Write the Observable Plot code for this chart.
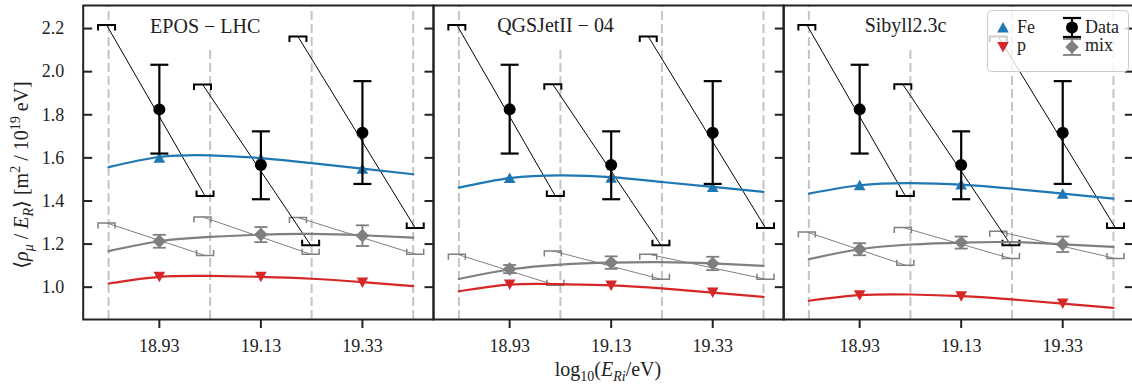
<!DOCTYPE html>
<html>
<head>
<meta charset="utf-8">
<script src="https://cdn.jsdelivr.net/npm/d3@7"></script>
<script src="https://cdn.jsdelivr.net/npm/@observablehq/plot@0.6"></script>
<style>
  html, body { margin:0; padding:0; background:#fff; overflow:hidden; }
  #wrap { position:relative; width:1132px; height:384px; overflow:hidden; background:#fff;
          font-family:"Liberation Serif","DejaVu Serif",serif; color:#222; }
  .panel { position:absolute; top:0; }
  .panel svg { max-width:none; display:block; }
  .panel svg text { font-family:"Liberation Serif","DejaVu Serif",serif; }
  #ylabel { position:absolute; left:21px; top:175px; transform:translate(-50%,-50%) rotate(-90deg);
            white-space:nowrap; font-size:20px; line-height:1; }
  #xlabel { position:absolute; left:608px; top:359px; transform:translateX(-50%);
            white-space:nowrap; font-size:20px; line-height:1; }
  sub, sup { font-size:70%; line-height:0; }
  #legend { position:absolute; left:987px; top:10px; }
</style>
</head>
<body>
<div id="wrap">
  <div id="ylabel">⟨<i>ρ</i><sub><i>μ</i></sub> / <i>E</i><sub><i>R</i></sub>⟩ [m<sup>2</sup> / 10<sup>19</sup> eV]</div>
  <div id="xlabel">log<sub>10</sub>(<i>E</i><sub><i>Ri</i></sub>/eV)</div>
</div>
<script>
// ---------- data ----------
const models = ["EPOS − LHC", "QGSJetII − 04", "Sibyll2.3c"];
const binCenters = [18.93, 19.13, 19.33];
const binEdges = [18.83, 19.03, 19.23, 19.43];
const edgeTops = [2.307, 2.11, 2.307, 2.307];
const yTicks = [1.0, 1.2, 1.4, 1.6, 1.8, 2.0, 2.2];

// measured data (same in every panel)
const dataMean = [1.825, 1.567, 1.717];
const dataLow  = [1.620, 1.408, 1.479];
const dataHigh = [2.032, 1.723, 1.956];

// energy-scale systematic shifts: end points
const sysXUp   = [18.826, 19.015, 19.203];
const sysXDown = [19.020, 19.228, 19.434];
const dataSysUp   = [2.217, 1.941, 2.163];
const dataSysDown = [1.423, 1.195, 1.275];

// per hadronic model (EPOS, QGSJet, Sibyll)
const feMarkers = [[1.600, 1.597, 1.549], [1.506, 1.508, 1.465], [1.473, 1.476, 1.434]];
const pMarkers  = [[1.048, 1.048, 1.022], [1.012, 1.008, 0.975], [0.963, 0.958, 0.924]];
const mixMean   = [[1.213, 1.244, 1.239], [1.084, 1.114, 1.110], [1.176, 1.207, 1.199]];
const mixErr    = [[0.030, 0.035, 0.048], [0.019, 0.029, 0.031], [0.028, 0.028, 0.036]];
const mixSysUp   = [[1.298, 1.326, 1.323], [1.153, 1.168, 1.153], [1.256, 1.277, 1.259]];
const mixSysDown = [[1.147, 1.153, 1.153], [1.009, 1.037, 1.037], [1.102, 1.133, 1.133]];

const curveX = [18.83, 18.93, 19.03, 19.13, 19.23, 19.33, 19.43];
const feCurve = [[1.557, 1.604, 1.612, 1.599, 1.576, 1.550, 1.524],
                 [1.462, 1.506, 1.519, 1.511, 1.488, 1.465, 1.442],
                 [1.434, 1.473, 1.483, 1.476, 1.457, 1.434, 1.411]];
const pCurve  = [[1.017, 1.048, 1.052, 1.048, 1.039, 1.023, 1.005],
                 [0.981, 1.012, 1.014, 1.008, 0.994, 0.975, 0.955],
                 [0.937, 0.963, 0.966, 0.958, 0.943, 0.924, 0.904]];
const mixCurve = [[1.167, 1.213, 1.233, 1.244, 1.247, 1.241, 1.230],
                  [1.038, 1.082, 1.105, 1.114, 1.116, 1.110, 1.099],
                  [1.130, 1.176, 1.198, 1.207, 1.209, 1.199, 1.187]];

const legendLabels = ["Fe", "p", "Data", "mix"];

// ---------- styling ----------
const PW = 350.3;
const XDOM = [18.78, 19.47];
const YDOM = [0.85, 2.307];
const ink = "#222";
const blue = "#1f77b4", red = "#d62728", gray = "#7f7f7f";
const FONT = "'Liberation Serif', 'DejaVu Serif', serif";

const sym = (f) => ({draw: f});
const capWide   = sym(c => { c.moveTo(-9, 0); c.lineTo(9, 0); });
const capNarrow = sym(c => { c.moveTo(-6.5, 0); c.lineTo(6.5, 0); });
const brUp   = sym(c => { c.moveTo(-8.5, 5.5); c.lineTo(-8.5, 0); c.lineTo(8.5, 0); c.lineTo(8.5, 5.5); });
const brDown = sym(c => { c.moveTo(-8.5, -5.5); c.lineTo(-8.5, 0); c.lineTo(8.5, 0); c.lineTo(8.5, -5.5); });
const triUp   = sym(c => { c.moveTo(0, -5.5); c.lineTo(5.8, 5); c.lineTo(-5.8, 5); c.closePath(); });
const triDown = sym(c => { c.moveTo(0, 5.5); c.lineTo(5.8, -5); c.lineTo(-5.8, -5); c.closePath(); });
const diamond = sym(c => { c.moveTo(0, -6.8); c.lineTo(6.8, 0); c.lineTo(0, 6.8); c.lineTo(-6.8, 0); c.closePath(); });
const tickL = sym(c => { c.moveTo(0, 0); c.lineTo(9, 0); });
const tickR = sym(c => { c.moveTo(-9, 0); c.lineTo(0, 0); });

function panel(i) {
  const first = i === 0;
  const mL = first ? 82.7 : 3, mR = 3;
  const rows = binCenters.map((x, j) => ({
    x, mean: dataMean[j], lo: dataLow[j], hi: dataHigh[j],
    xu: sysXUp[j], xd: sysXDown[j], su: dataSysUp[j], sd: dataSysDown[j],
    fe: feMarkers[i][j], p: pMarkers[i][j], mix: mixMean[i][j],
    mixLo: mixMean[i][j] - mixErr[i][j], mixHi: mixMean[i][j] + mixErr[i][j],
    msu: mixSysUp[i][j], msd: mixSysDown[i][j]
  }));
  const curves = curveX.map((x, k) => ({x, fe: feCurve[i][k], p: pCurve[i][k], mix: mixCurve[i][k]}));
  const edges = binEdges.map((x, k) => ({x, top: edgeTops[k]}));

  return Plot.plot({
    width: mL + PW + mR, height: 384,
    marginLeft: mL, marginRight: mR, marginTop: 5, marginBottom: 65,
    x: {domain: XDOM},
    y: first ? {domain: YDOM} : {domain: YDOM, axis: null},
    style: {background: "transparent", fontFamily: FONT, fontSize: "18px", color: ink, overflow: "visible"},
    marks: [
      Plot.ruleX(edges, {x: "x", y1: YDOM[0], y2: "top", stroke: "#c4c4c4", strokeWidth: 2, strokeDasharray: "9,4"}),
      // mix systematics
      Plot.link(rows, {x1: "xu", y1: "msu", x2: "xd", y2: "msd", stroke: gray, strokeWidth: 1}),
      Plot.dot(rows, {x: "xu", y: "msu", symbol: brUp, r: 1, fill: "none", stroke: gray, strokeWidth: 1.5}),
      Plot.dot(rows, {x: "xd", y: "msd", symbol: brDown, r: 1, fill: "none", stroke: gray, strokeWidth: 1.5}),
      // data systematics
      Plot.link(rows, {x1: "xu", y1: "su", x2: "xd", y2: "sd", stroke: "#000", strokeWidth: 1}),
      Plot.dot(rows, {x: "xu", y: "su", symbol: brUp, r: 1, fill: "none", stroke: "#000", strokeWidth: 2}),
      Plot.dot(rows, {x: "xd", y: "sd", symbol: brDown, r: 1, fill: "none", stroke: "#000", strokeWidth: 2}),
      // model curves
      Plot.line(curves, {x: "x", y: "fe", stroke: blue, strokeWidth: 2.2, curve: "natural"}),
      Plot.line(curves, {x: "x", y: "mix", stroke: gray, strokeWidth: 2.2, curve: "natural"}),
      Plot.line(curves, {x: "x", y: "p", stroke: red, strokeWidth: 2.2, curve: "natural"}),
      // pure composition markers
      Plot.dot(rows, {x: "x", y: "fe", symbol: triUp, r: 1, fill: blue, stroke: "none"}),
      Plot.dot(rows, {x: "x", y: "p", symbol: triDown, r: 1, fill: red, stroke: "none"}),
      // mix
      Plot.ruleX(rows, {x: "x", y1: "mixLo", y2: "mixHi", stroke: gray, strokeWidth: 1.8}),
      Plot.dot(rows, {x: "x", y: "mixLo", symbol: capNarrow, r: 1, fill: "none", stroke: gray, strokeWidth: 1.8}),
      Plot.dot(rows, {x: "x", y: "mixHi", symbol: capNarrow, r: 1, fill: "none", stroke: gray, strokeWidth: 1.8}),
      Plot.dot(rows, {x: "x", y: "mix", symbol: diamond, r: 1, fill: gray, stroke: "none"}),
      // data
      Plot.ruleX(rows, {x: "x", y1: "lo", y2: "hi", stroke: "#000", strokeWidth: 2.2}),
      Plot.dot(rows, {x: "x", y: "lo", symbol: capWide, r: 1, fill: "none", stroke: "#000", strokeWidth: 2.2}),
      Plot.dot(rows, {x: "x", y: "hi", symbol: capWide, r: 1, fill: "none", stroke: "#000", strokeWidth: 2.2}),
      Plot.dot(rows, {x: "x", y: "mean", r: 6, fill: "#000", stroke: "none"}),
      // frame, ticks, axes
      Plot.frame({stroke: ink, strokeWidth: 2}),
      first ? Plot.dot(yTicks, {y: d => d, frameAnchor: "left", symbol: tickL, r: 1, fill: "none", stroke: ink, strokeWidth: 2}) : null,
      Plot.dot(yTicks, {y: d => d, frameAnchor: "right", symbol: tickR, r: 1, fill: "none", stroke: ink, strokeWidth: 2}),
      Plot.axisX(binCenters, {tickSize: 9, tickPadding: 11, tickFormat: d => d.toFixed(2), fontSize: 18, fontFamily: FONT, strokeWidth: 2, stroke: ink, label: null}),
      first ? Plot.axisY(yTicks, {tickSize: 0, tickPadding: 19, tickFormat: d => d.toFixed(1), fontSize: 18, fontFamily: FONT, label: null}) : null,
      Plot.text([models[i]], {text: d => d, frameAnchor: "top-left", dx: 122, dy: 27, lineAnchor: "bottom", textAnchor: "middle", fontSize: 20, fontFamily: FONT, fill: ink})
    ]
  });
}

const wrap = document.getElementById("wrap");
const lefts = [0, 82.7 + PW - 3, 82.7 + 2 * PW - 3];
models.forEach((m, i) => {
  const div = document.createElement("div");
  div.className = "panel";
  div.style.left = lefts[i] + "px";
  div.appendChild(panel(i));
  wrap.insertBefore(div, wrap.firstChild);
});

// ---------- legend ----------
const leg = d3.select(wrap).append("svg").attr("id", "legend").attr("width", 143).attr("height", 63)
  .style("font-family", FONT).style("font-size", "18px");
leg.append("rect").attr("x", 0.5).attr("y", 0.5).attr("width", 141).attr("height", 61).attr("rx", 4)
  .attr("fill", "#fff").attr("fill-opacity", 0.8).attr("stroke", "#cccccc");
const sp = (s) => d3.symbol().type(s)();
leg.append("path").attr("d", sp(triUp)).attr("transform", "translate(16,17.5)").attr("fill", blue);
leg.append("path").attr("d", sp(triDown)).attr("transform", "translate(16,37)").attr("fill", red);
// Data symbol
const gD = leg.append("g").attr("transform", "translate(85,0)").attr("stroke", "#000").attr("stroke-width", 2.2);
gD.append("line").attr("y1", 8).attr("y2", 27);
gD.append("path").attr("d", sp(capWide)).attr("transform", "translate(0,8)");
gD.append("path").attr("d", sp(capWide)).attr("transform", "translate(0,27)");
gD.append("circle").attr("cy", 17.5).attr("r", 6).attr("fill", "#000").attr("stroke", "none");
// mix symbol
const gM = leg.append("g").attr("transform", "translate(85,0)").attr("stroke", gray).attr("stroke-width", 1.8);
gM.append("line").attr("y1", 29).attr("y2", 45);
gM.append("path").attr("d", sp(capWide)).attr("transform", "translate(0,29)");
gM.append("path").attr("d", sp(capWide)).attr("transform", "translate(0,45)");
gM.append("path").attr("d", sp(diamond)).attr("transform", "translate(0,37)").attr("fill", gray).attr("stroke", "none");
const lt = [[30, 22.5], [30, 40.5], [98, 22.5], [98, 40.5]];
legendLabels.forEach((t, k) => {
  leg.append("text").attr("x", lt[k][0]).attr("y", lt[k][1]).attr("fill", ink).text(t);
});
</script>
</body>
</html>
